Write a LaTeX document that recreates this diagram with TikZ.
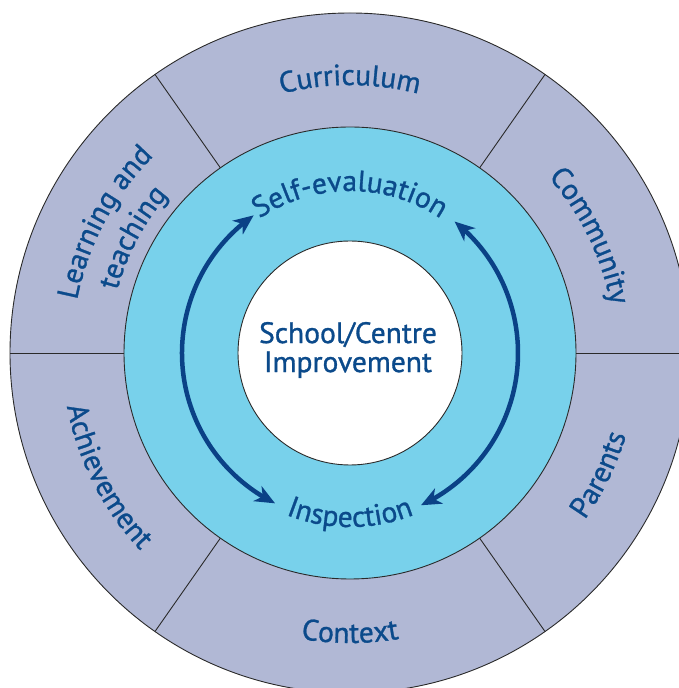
\documentclass[tikz,border=0pt]{standalone}
\usepackage{fontspec}
\setmainfont{PT Sans}
\newfontfamily\lblface{PT Sans}[FakeBold=1.0]
\usetikzlibrary{decorations.text,arrows.meta,bending}
\definecolor{ringout}{HTML}{B1B8D5}
\definecolor{ringmid}{HTML}{78D1EB}
\definecolor{txtblue}{HTML}{0B4A8B}
\definecolor{arrblue}{HTML}{0A4186}
\definecolor{edgegray}{HTML}{2A2A2A}
\newcommand{\lblfont}{\lblface\fontsize{29.5}{33}\selectfont\color{txtblue}}
\begin{document}
\begin{tikzpicture}[x=1pt,y=1pt,
  ringline/.style={draw=edgegray, line width=0.9pt},
  divider/.style={draw=edgegray, line width=0.9pt},
  cycarrow/.style={draw=arrblue, line width=4.5pt,
    {Stealth[length=20pt,width=17pt,inset=6pt]}-{Stealth[length=20pt,width=17pt,inset=6pt]}},
  curvetext/.style={decorate, decoration={text along path, text align=center, text={|\lblfont|#1}}},
]
\useasboundingbox (0,0) rectangle (679,688);
\clip (0,0) rectangle (679,688);
\begin{scope}[shift={(350,335)}]
\coordinate (C) at (0,0);
% rings
\path[fill=ringout, ringline] (C) circle[radius=340];
\path[fill=ringmid, ringline] (C) circle[radius=226];
\foreach \a in {0,55,125,180,235,305}
  \draw[divider] (\a:226) -- (\a:340);
\path[fill=white, ringline] (C) circle[radius=112];
% centre
\node[align=center, font=\lblface\fontsize{29.5}{29}\selectfont, text=txtblue, inner sep=0pt] (core) at (-2,3) {School/Centre\\Improvement};
% cycle arrows
\draw[cycarrow] (125:168) arc[start angle=125, end angle=243.5, radius=168];
\draw[cycarrow] (51.5:168) arc[start angle=51.5, end angle=-65, radius=168];
% inner ring labels
\path[curvetext=Self-evaluation] (150:162) arc[start angle=150, end angle=30, radius=162];
\path[curvetext=Inspection] (210:174) arc[start angle=210, end angle=330, radius=174];
% outer ring labels
\path[curvetext=Curriculum] (130:268) arc[start angle=130, end angle=50, radius=268];
\path[curvetext=Community] (66:265) arc[start angle=66, end angle=-14, radius=265];
\path[curvetext=Parents] (-66:288) arc[start angle=-66, end angle=14, radius=288];
\path[curvetext=Context] (230:290) arc[start angle=230, end angle=310, radius=290];
\path[curvetext=Achievement] (167:288) arc[start angle=167, end angle=247, radius=288];
\path[curvetext={Learning and}] (192:278) arc[start angle=192, end angle=112, radius=278];
\path[curvetext=teaching] (192:241) arc[start angle=192, end angle=112, radius=241];
\end{scope}
\end{tikzpicture}
\end{document}
